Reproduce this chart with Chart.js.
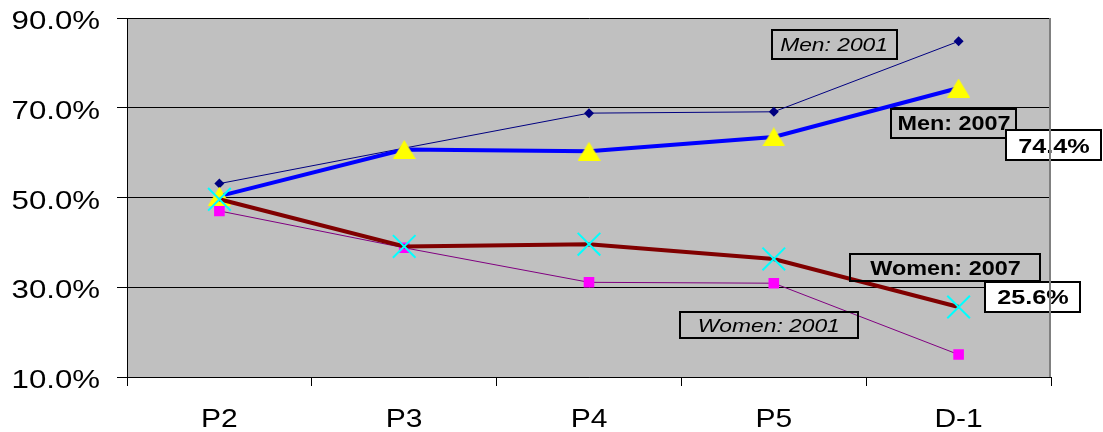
<!DOCTYPE html>
<html>
<head>
<meta charset="utf-8">
<title>Share of men and women by grade</title>
<script src="https://cdn.jsdelivr.net/npm/chart.js@4.4.0/dist/chart.umd.min.js"></script>
<style>
  html, body { margin: 0; padding: 0; background: #ffffff; }
  #wrap { width: 1103px; height: 432px; position: relative; }
</style>
</head>
<body>
<div id="wrap"><canvas id="chart" width="1103" height="432"></canvas></div>
<script>
// Grades and percentage shares
const grades = ['P2', 'P3', 'P4', 'P5', 'D-1'];
const men2001 = [53.1, 61.0, 68.8, 69.1, 84.8];
const women2001 = [47.0, 38.8, 31.1, 30.9, 15.0];
const men2007 = [50.3, 60.7, 60.3, 63.5, 74.4];
const women2007 = [49.6, 39.1, 39.6, 36.3, 25.6];
const yTicks = [10, 30, 50, 70, 90];

const pct = v => v.toFixed(1) + '%';
const FONT = '"Liberation Sans", Arial, sans-serif';
const STRETCH = 1.2;

// Text drawn slightly widened horizontally
function wideText(ctx, text, x, y, align, font, sx) {
  ctx.save();
  ctx.font = font;
  ctx.textBaseline = 'alphabetic';
  ctx.textAlign = 'left';
  const w = ctx.measureText(text).width * sx;
  const left = align === 'right' ? x - w : align === 'center' ? x - w / 2 : x;
  ctx.translate(left, y);
  ctx.scale(sx, 1);
  ctx.fillStyle = '#000000';
  ctx.fillText(text, 0, 0);
  ctx.restore();
}

// Yellow triangle centred on its bounding box
function triangleMarker(w, h, color) {
  const c = document.createElement('canvas');
  c.width = w; c.height = h;
  const g = c.getContext('2d');
  g.fillStyle = color;
  g.beginPath();
  g.moveTo(w / 2, 0);
  g.lineTo(w, h);
  g.lineTo(0, h);
  g.closePath();
  g.fill();
  return c;
}

// Text boxes: anchored in data space (category index, percent)
const callouts = [
  { text: 'Men: 2001', at: [3.326, 84.1], w: 125, h: 29, style: 'italic', size: 19, fill: null },
  { text: 'Men: 2007', at: [3.975, 66.6], w: 125, h: 29, style: 'bold', size: 19.5, fill: null },
  { text: pct(men2007[4]), at: [4.516, 61.6], w: 95, h: 30, style: 'bold', size: 21, fill: '#ffffff' },
  { text: 'Women: 2007', at: [3.929, 34.3], w: 190, h: 27, style: 'bold', size: 19.5, fill: null },
  { text: pct(women2007[4]), at: [4.402, 27.9], w: 95, h: 30, style: 'bold', size: 21, fill: '#ffffff' },
  { text: 'Women: 2001', at: [2.973, 21.5], w: 178, h: 26, style: 'italic', size: 19, fill: null }
];

const plotFrame = {
  id: 'plotFrame',
  beforeDraw(chart) {
    const { ctx, chartArea: a } = chart;
    ctx.save();
    ctx.fillStyle = '#C0C0C0';
    ctx.fillRect(a.left, a.top, a.right - a.left, a.bottom - a.top);
    ctx.restore();
  },
  afterDraw(chart) {
    const { ctx, chartArea: a } = chart;
    ctx.save();
    ctx.strokeStyle = '#808080';
    ctx.lineWidth = 2;
    ctx.beginPath();
    ctx.moveTo(a.right - 1, a.top);
    ctx.lineTo(a.right - 1, a.bottom);
    ctx.stroke();
    ctx.restore();

    const ys = chart.scales.y;
    ys.ticks.forEach((t, i) => {
      const py = ys.getPixelForTick(i);
      wideText(ctx, pct(t.value), 100, py + 11, 'right', '26px ' + FONT, STRETCH);
    });
    const xs = chart.scales.x;
    xs.ticks.forEach((t, i) => {
      const px = xs.getPixelForTick(i);
      wideText(ctx, grades[i], px, 427, 'center', '25px ' + FONT, STRETCH);
    });
  }
};

const calloutBoxes = {
  id: 'calloutBoxes',
  afterDatasetsDraw(chart) {
    const { ctx } = chart;
    const xs = chart.scales.x, ys = chart.scales.y;
    callouts.forEach(c => {
      const cx = xs.getPixelForValue(c.at[0]);
      const cy = ys.getPixelForValue(c.at[1]);
      const x0 = Math.round(cx - c.w / 2), y0 = Math.round(cy - c.h / 2);
      ctx.save();
      if (c.fill) {
        ctx.fillStyle = c.fill;
        ctx.fillRect(x0, y0, c.w, c.h);
      }
      ctx.strokeStyle = '#000000';
      ctx.lineWidth = 2;
      ctx.strokeRect(x0, y0, c.w, c.h);
      ctx.restore();
      const base = cy + 0.716 * c.size / 2;
      wideText(ctx, c.text, cx, base, 'center', c.style + ' ' + c.size + 'px ' + FONT, STRETCH);
    });
  }
};

new Chart(document.getElementById('chart'), {
  type: 'line',
  data: {
    labels: grades,
    datasets: [
      {
        label: 'Women 2007',
        data: women2007,
        order: 0,
        borderColor: '#800000',
        borderWidth: 4,
        pointStyle: 'crossRot',
        pointRadius: 16,
        pointBorderColor: '#00FFFF',
        pointBackgroundColor: '#00FFFF',
        pointBorderWidth: 2
      },
      {
        label: 'Men 2007',
        data: men2007,
        order: 1,
        borderColor: '#0000FF',
        borderWidth: 4,
        pointStyle: triangleMarker(23, 19, '#FFFF00'),
        pointRadius: 12
      },
      {
        label: 'Women 2001',
        data: women2001,
        order: 2,
        borderColor: '#800080',
        borderWidth: 1,
        pointStyle: 'rect',
        pointRadius: 7.5,
        pointBackgroundColor: '#FF00FF',
        pointBorderColor: '#FF00FF',
        pointBorderWidth: 0
      },
      {
        label: 'Men 2001',
        data: men2001,
        order: 3,
        borderColor: '#000080',
        borderWidth: 1,
        pointStyle: 'rectRot',
        pointRadius: 5,
        pointBackgroundColor: '#000080',
        pointBorderColor: '#000080',
        pointBorderWidth: 0
      }
    ]
  },
  options: {
    responsive: false,
    animation: false,
    devicePixelRatio: 1,
    layout: { padding: { top: 18, right: 52, left: 0, bottom: 0 } },
    elements: { line: { tension: 0 } },
    plugins: { legend: { display: false }, tooltip: { enabled: false } },
    scales: {
      x: {
        offset: true,
        grid: {
          offset: true,
          drawOnChartArea: false,
          drawTicks: true,
          tickLength: 9,
          color: '#000000',
          lineWidth: 1
        },
        border: { display: true, color: '#000000', width: 1 },
        ticks: { display: false },
        afterFit(scale) { scale.height = 55; }
      },
      y: {
        min: 10,
        max: 90,
        afterBuildTicks(scale) { scale.ticks = yTicks.map(v => ({ value: v })); },
        grid: {
          color: '#000000',
          lineWidth: 1,
          drawTicks: true,
          tickLength: 10
        },
        border: { display: true, color: '#000000', width: 1 },
        ticks: { display: false },
        afterFit(scale) { scale.width = 127; }
      }
    }
  },
  plugins: [plotFrame, calloutBoxes]
});
</script>
</body>
</html>
